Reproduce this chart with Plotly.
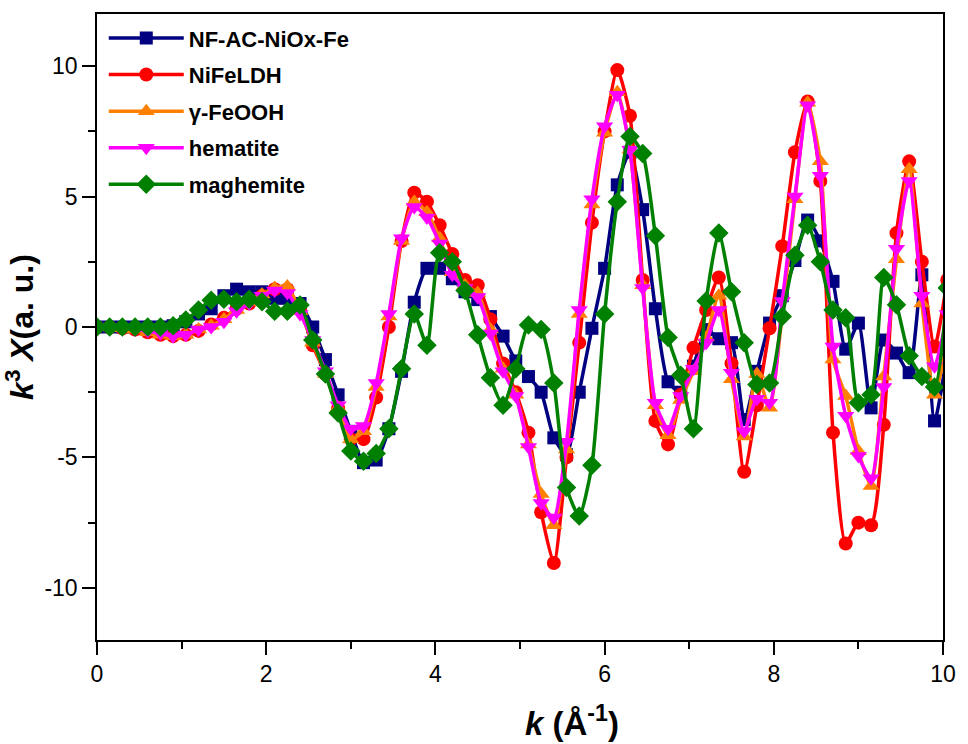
import numpy as np
import plotly.graph_objects as go

# k grid (Å^-1), step 0.15
k = [round(0.15 * i, 2) for i in range(68)]

nf_ac_niox_fe = [0, 0, 0, 0, 0.0, 0.0, 0.05, 0.2, 0.5, 0.7, 1.2, 1.45, 1.35, 1.35, 1.1, 1.1, 0.9,
                 0.0, -1.25, -2.6, -4.0, -5.2, -5.1, -3.9, -1.7, 0.95, 2.25, 2.25, 1.85, 1.35, 1.05,
                 0.4, -0.35, -1.3, -1.9, -2.5, -4.25, -4.9, -2.5, -0.05, 2.25, 5.45, 6.7, 4.5, 0.7,
                 -2.1, -2.5, -1.5, -0.1, -0.45, -0.6, -3.55, -1.7, 0.15, 1.2, 2.55, 4.1, 3.3, 1.75,
                 -0.85, 0.15, -3.1, -0.5, -1.0, -1.75, 2.0, -3.6, -1.0]

nifeldh = [0, 0, -0.05, -0.1, -0.2, -0.3, -0.35, -0.3, -0.15, 0.1, 0.35, 0.7, 0.9, 1.2, 1.45, 1.45,
           0.7, -0.7, -1.8, -3.1, -4.3, -4.3, -2.7, 0.0, 3.3, 5.15, 4.8, 3.9, 2.8, 1.8, 1.6, 0.3,
           -1.4, -2.5, -4.05, -7.1, -9.05, -5.0, -0.6, 4.0, 7.5, 9.85, 8.1, 1.8, -3.6, -4.5, -2.6,
           -0.8, 0.65, 1.9, -1.4, -5.55, -3.0, -0.05, 3.1, 6.7, 8.65, 5.6, -4.05, -8.3, -7.5, -7.6,
           -3.75, 3.6, 6.35, 2.5, -0.75, 1.8]

gamma_feooh = [0, 0, -0.05, -0.1, -0.2, -0.3, -0.35, -0.3, -0.1, 0.05, 0.3, 0.65, 0.95, 1.25, 1.5,
               1.55, 0.6, -0.6, -1.8, -3.1, -4.3, -4.0, -2.3, 0.4, 3.3, 4.8, 4.4, 3.4, 2.1, 1.6, 1.3,
               -0.1, -1.6, -2.6, -4.5, -6.4, -7.6, -4.7, 0.5, 4.7, 7.45, 9.0, 6.8, 1.6, -3.0, -4.15,
               -2.8, -1.7, -0.4, 1.2, -2.0, -4.2, -1.8, -3.1, 0.5, 4.9, 8.6, 6.35, -1.25, -2.65,
               -4.75, -6.1, -1.9, 2.6, 6.05, 0.9, -2.6, -0.5]

hematite = [0, 0, -0.05, -0.1, -0.15, -0.25, -0.35, -0.3, -0.1, 0.0, 0.2, 0.6, 0.9, 1.2, 1.4, 1.3,
            0.5, -0.5, -1.7, -3.0, -3.9, -3.8, -2.15, 0.5, 3.4, 4.6, 4.2, 3.2, 2.0, 1.5, 1.15, -0.25,
            -1.7, -2.65, -4.6, -6.75, -7.3, -4.4, 0.65, 4.9, 7.7, 8.9, 6.8, 1.5, -2.9, -3.9, -2.65,
            -1.6, -0.6, 0.65, -1.75, -4.0, -2.75, -2.9, 1.0, 5.0, 8.5, 5.8, -0.75, -3.4, -4.95,
            -5.8, -2.3, 3.0, 5.6, 1.2, -1.5, 0.5]

maghemite = [0, 0, 0, 0, 0, 0, 0.05, 0.27, 0.65, 1.03, 1.06, 0.97, 1.06, 0.97, 0.6, 0.6, 0.84,
             -0.5, -1.8, -3.3, -4.75, -5.15, -4.85, -3.9, -1.6, 0.5, -0.7, 2.85, 2.5, 1.4, -0.3,
             -1.95, -3.0, -1.6, 0.08, -0.1, -2.15, -6.15, -7.25, -5.3, 0.5, 4.8, 7.3, 6.65, 3.5,
             -0.4, -1.85, -3.9, 1.0, 3.6, 1.35, -0.6, -2.2, -2.15, 0.4, 2.75, 3.9, 2.5, 0.65, 0.35,
             -2.9, -2.6, 1.9, 0.85, -1.1, -1.9, -2.3, 1.5]

x_ticks = [0, 2, 4, 6, 8, 10]
x_ticklabels = ["0", "2", "4", "6", "8", "10"]
y_ticks = [-10, -5, 0, 5, 10]
y_ticklabels = ["-10", "-5", "0", "5", "10"]

names = ["NF-AC-NiOx-Fe", "NiFeLDH", "\u03b3-FeOOH", "hematite", "maghemite"]
colors = ["#000080", "#FF0000", "#FF8000", "#FF00FF", "#008000"]
symbols = ["square", "circle", "triangle-up", "triangle-down", "diamond"]
sizes = [13, 14, 15, 15, 15]
series = [nf_ac_niox_fe, nifeldh, gamma_feooh, hematite, maghemite]

font_fam = "Liberation Sans Narrow, Arial Narrow, Liberation Sans, Arial"

fig = go.Figure()
for nm, c, s, sz, ys in zip(names, colors, symbols, sizes, series):
    assert len(ys) == len(k), (nm, len(ys))
    fig.add_trace(go.Scatter(
        x=k, y=ys, name="<b>" + nm + "</b>", mode="lines+markers",
        line=dict(color=c, width=3.5, shape="spline", smoothing=0.6),
        marker=dict(symbol=s, size=sz, color=c),
        legendgroup=nm,
    ))

axis_common = dict(
    showline=True, linecolor="black", linewidth=1.5, mirror=True,
    ticks="outside", ticklen=13, tickwidth=1.5, tickcolor="black",
    showgrid=False, zeroline=False,
    tickfont=dict(family=font_fam, size=23, color="black"),
)

fig.update_xaxes(
    range=[0, 10], tickmode="array", tickvals=x_ticks, ticktext=x_ticklabels,
    minor=dict(ticks="outside", ticklen=7, dtick=1, tickcolor="black", tickwidth=1.5),
    **axis_common,
)
fig.update_yaxes(
    range=[-12, 12], tickmode="array", tickvals=y_ticks, ticktext=y_ticklabels,
    minor=dict(ticks="outside", ticklen=7, dtick=2.5, tickcolor="black", tickwidth=1.5),
    title=dict(text="<b><i>k</i><sup>3</sup> <i>X</i>(a. u.)</b>",
               font=dict(family="Liberation Sans, Arial", size=32, color="black"), standoff=6),
    **axis_common,
)

# x-axis title (placed slightly right of centre, as in the original figure)
fig.add_annotation(
    text="<b><i>k</i> (\u00c5<sup>-1</sup>)</b>",
    xref="paper", yref="paper", x=0.562, y=-0.13, xanchor="center", yanchor="middle",
    showarrow=False, font=dict(family="Liberation Sans, Arial", size=33, color="black"),
)

fig.update_layout(
    width=968, height=744,
    margin=dict(l=97, r=18, t=13, b=104),
    plot_bgcolor="white", paper_bgcolor="white",
    legend=dict(x=0.008, y=0.995, xanchor="left", yanchor="top",
                bgcolor="rgba(0,0,0,0)", borderwidth=0,
                font=dict(family="Liberation Sans, Arial", size=22, color="black"),
                itemwidth=75, tracegroupgap=5, traceorder="grouped"),
)

fig.write_html("out.html")
